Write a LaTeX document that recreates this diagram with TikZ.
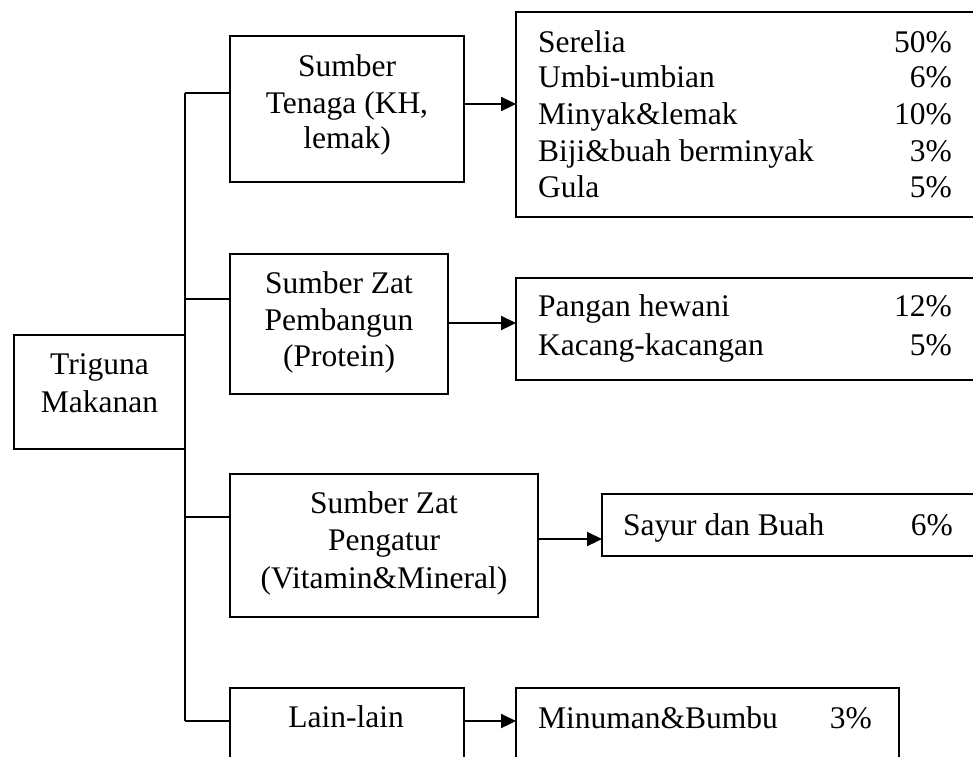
\documentclass[tikz,border=0pt]{standalone}
\usepackage{fontspec}
\setmainfont{Liberation Serif}
\usetikzlibrary{arrows.meta}
\begin{document}
\begin{tikzpicture}[x=1pt,y=-1pt,
  box/.style={draw, line width=1.8pt, rectangle, inner sep=0pt, outer sep=0pt},
  txt/.style={anchor=base, inner sep=0pt, font=\fontsize{31.5}{36}\selectfont},
  txtl/.style={txt, anchor=base west},
  txtr/.style={txt, anchor=base east},
  arr/.style={-{Triangle[length=15pt,width=14pt]}, line width=2.2pt},
  conn/.style={line width=1.8pt}]
\clip (0,0) rectangle (973,756);
\fill[white] (0,0) rectangle (973,756);
% boxes
\node[box, minimum width=171pt, minimum height=114pt] (trig) at (99.5,392) {};
\node[box, minimum width=234pt, minimum height=146pt] (tenaga) at (347,109) {};
\node[box, minimum width=218pt, minimum height=140pt] (pemb) at (339,324) {};
\node[box, minimum width=308pt, minimum height=143pt] (peng) at (384,545.5) {};
\node[box, minimum width=234pt, minimum height=112pt] (lain) at (347,744) {};
\node[box, minimum width=469pt, minimum height=205pt] (r1) at (750.5,114.5) {};
\node[box, minimum width=469pt, minimum height=102pt] (r2) at (750.5,329) {};
\node[box, minimum width=383pt, minimum height=62pt] (r3) at (793.5,525) {};
\node[box, minimum width=383pt, minimum height=112pt] (r4) at (707.5,744) {};
% trunk
\coordinate (t1) at (185,93);
\coordinate (t2) at (185,299);
\coordinate (t3) at (185,517);
\coordinate (t4) at (185,721);
\draw[conn] (t1) -- (t4);
\draw[conn] (t1) -- (t1 -| tenaga.west);
\draw[conn] (t2) -- (t2 -| pemb.west);
\draw[conn] (t3) -- (t3 -| peng.west);
\draw[conn] (t4) -- (t4 -| lain.west);
% arrows
\coordinate (a1) at (464,104);
\coordinate (a2) at (448,323);
\coordinate (a3) at (538,539);
\coordinate (a4) at (464,721);
\draw[arr] (a1) -- (a1 -| r1.west);
\draw[arr] (a2) -- (a2 -| r2.west);
\draw[arr] (a3) -- (a3 -| r3.west);
\draw[arr] (a4) -- (a4 -| r4.west);
% texts
\node[txt] (trig1) at (99.5,374) {Triguna};
\node[txt] (trig2) at (99.5,412) {Makanan};
\node[txt] (ten1) at (347,76) {Sumber};
\node[txt] (ten2) at (347,113) {Tenaga (KH,};
\node[txt] (ten3) at (347,148) {lemak)};
\node[txt] (pem1) at (339,293) {Sumber Zat};
\node[txt] (pem2) at (339,330) {Pembangun};
\node[txt] (pem3) at (339,366) {(Protein)};
\node[txt] (pen1) at (384,513) {Sumber Zat};
\node[txt] (pen2) at (384,550) {Pengatur};
\node[txt] (pen3) at (384,588) {(Vitamin\&Mineral)};
\node[txt] (lai1) at (346,727) {Lain-lain};
% r1
\node[txtl] (s1) at (538,52) {Serelia};
\node[txtr] (p1) at (952,52) {50\%};
\node[txtl] (s2) at (538,87.3) {Umbi-umbian};
\node[txtr] (p2) at (952,87.3) {6\%};
\node[txtl] (s3) at (538,124) {Minyak\&lemak};
\node[txtr] (p3) at (952,124) {10\%};
\node[txtl] (s4) at (538,161.7) {Biji\&buah berminyak};
\node[txtr] (p4) at (952,161.7) {3\%};
\node[txtl] (s5) at (538,197.3) {Gula};
\node[txtr] (p5) at (952,197.3) {5\%};
% r2
\node[txtl] (s6) at (538,316.7) {Pangan hewani};
\node[txtr] (p6) at (952,316.7) {12\%};
\node[txtl] (s7) at (538,355) {Kacang-kacangan};
\node[txtr] (p7) at (952,355) {5\%};
% r3
\node[txtl] (s8) at (623,535) {Sayur dan Buah};
\node[txtr] (p8) at (953,535) {6\%};
% r4
\node[txtl] (s9) at (538,728) {Minuman\&Bumbu};
\node[txtr] (p9) at (872,728) {3\%};
\end{tikzpicture}
\end{document}
